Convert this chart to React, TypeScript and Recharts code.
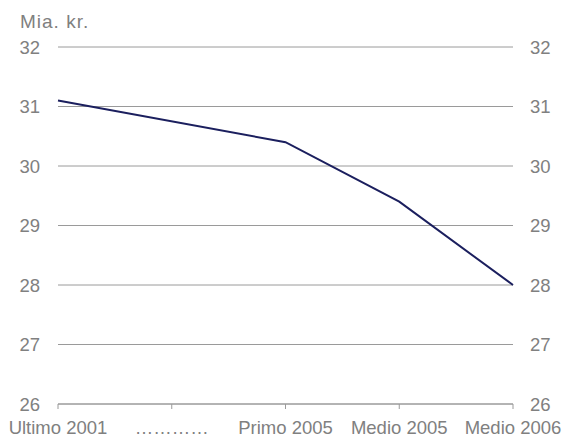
import * as React from 'react';
import { LineChart, Line, XAxis, YAxis, CartesianGrid } from 'recharts';

// categories along the bottom; the dotted one has no observation
const periods = ['Ultimo 2001', '…………', 'Primo 2005', 'Medio 2005', 'Medio 2006'];
const amounts: (number | null)[] = [31.1, null, 30.4, 29.4, 28.0];
const yTicks = [26, 27, 28, 29, 30, 31, 32];

const TEXT = '#808080';
const GRID = '#9a9a9a';
const LINE = '#1b1f5e';
const FONT = '"Liberation Sans", Arial, Helvetica, sans-serif';

const data = periods.map((p, i) => ({ period: p, value: amounts[i] }));

export default function App() {
  const tickStyle = { fill: TEXT, fontSize: 18.5, fontFamily: FONT };
  return (
    <div style={{ position: 'absolute', left: 0, top: 0, width: 564, height: 439, background: '#fff' }}>
      <div
        style={{
          position: 'absolute',
          left: 20,
          top: 12,
          color: TEXT,
          fontSize: 19,
          letterSpacing: 1,
          fontFamily: FONT,
          lineHeight: '20px',
        }}
      >
        Mia. kr.
      </div>
      <LineChart
        width={564}
        height={439}
        data={data}
        margin={{ top: 47, right: 0, bottom: 0, left: 0 }}
      >
        <CartesianGrid yAxisId="left" vertical={false} stroke={GRID} strokeWidth={1} />
        <XAxis
          dataKey="period"
          axisLine={{ stroke: GRID }}
          tickLine={{ stroke: GRID }}
          tickSize={5}
          tickMargin={12}
          tick={tickStyle}
          interval={0}
          height={35}
        />
        <YAxis
          yAxisId="left"
          domain={[26, 32]}
          ticks={yTicks}
          axisLine={false}
          tickLine={false}
          tickSize={0}
          tickMargin={18}
          tick={tickStyle}
          width={58}
        />
        <YAxis
          yAxisId="right"
          orientation="right"
          domain={[26, 32]}
          ticks={yTicks}
          axisLine={false}
          tickLine={false}
          tickSize={0}
          tickMargin={17}
          tick={{ ...tickStyle, textAnchor: 'start' }}
          width={51}
        />
        <Line
          yAxisId="right"
          dataKey="value"
          stroke="none"
          dot={false}
          legendType="none"
          connectNulls
          isAnimationActive={false}
        />
        <Line
          yAxisId="left"
          dataKey="value"
          type="linear"
          stroke={LINE}
          strokeWidth={2}
          dot={false}
          connectNulls
          isAnimationActive={false}
        />
      </LineChart>
    </div>
  );
}
